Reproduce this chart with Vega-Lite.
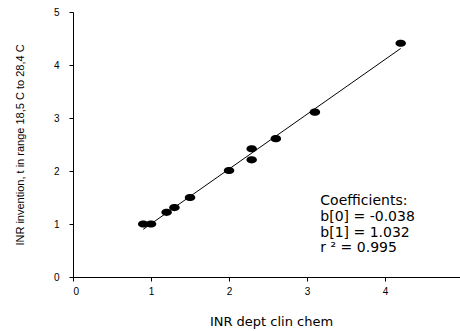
{
  "$schema": "https://vega.github.io/schema/vega-lite/v6.json",
  "width": 387,
  "height": 265,
  "autosize": {"type": "none"},
  "padding": {"left": 73, "top": 12, "right": 0, "bottom": 54},
  "background": "white",
  "config": {
    "view": {"stroke": null},
    "font": "Liberation Sans",
    "axis": {"grid": false, "domainColor": "black", "tickColor": "black", "labelColor": "black", "titleColor": "black", "titleFontWeight": "normal", "labelFont": "Liberation Sans", "titleFont": "Liberation Sans"}
  },
  "datasets": {
    "pts": [
      {"x": 0.9, "y": 1.0},
      {"x": 1.0, "y": 1.0},
      {"x": 1.2, "y": 1.22},
      {"x": 1.3, "y": 1.31},
      {"x": 1.5, "y": 1.5},
      {"x": 2.0, "y": 2.01},
      {"x": 2.29, "y": 2.42},
      {"x": 2.29, "y": 2.21},
      {"x": 2.6, "y": 2.61},
      {"x": 3.1, "y": 3.11},
      {"x": 4.2, "y": 4.41}
    ],
    "notes": [
      {"x": 3.17, "y": 1.36, "t": "Coefficients:"},
      {"x": 3.17, "y": 1.06, "t": "b[0] = -0.038"},
      {"x": 3.17, "y": 0.76, "t": "b[1] = 1.032"},
      {"x": 3.17, "y": 0.47, "t": "r ² = 0.995"}
    ]
  },
  "layer": [
    {
      "mark": {"type": "rule", "color": "black", "strokeWidth": 1},
      "encoding": {"y": {"datum": 5, "type": "quantitative"}}
    },
    {
      "data": {"name": "pts"},
      "transform": [{"regression": "y", "on": "x", "extent": [0.9, 4.2]}],
      "mark": {"type": "line", "color": "black", "strokeWidth": 1},
      "encoding": {
        "x": {"field": "x", "type": "quantitative"},
        "y": {"field": "y", "type": "quantitative"}
      }
    },
    {
      "data": {"name": "pts"},
      "mark": {"type": "point", "filled": true, "color": "black", "opacity": 1, "size": 110, "shape": "M-1,0A1,0.68 0 1,0 1,0A1,0.68 0 1,0 -1,0Z"},
      "encoding": {
        "x": {
          "field": "x", "type": "quantitative",
          "scale": {"domain": [0, 4.96], "nice": false, "zero": false},
          "axis": {"values": [0, 1, 2, 3, 4], "title": "INR dept clin chem", "titleFont": "DejaVu Sans", "titleFontSize": 13, "titleX": 198, "titleY": 48, "titleAlign": "center", "titleBaseline": "alphabetic", "labelFontSize": 10, "tickSize": 4, "labelPadding": 5, "format": "d"}
        },
        "y": {
          "field": "y", "type": "quantitative",
          "scale": {"domain": [0, 5], "nice": false},
          "axis": {"values": [0, 1, 2, 3, 4, 5], "title": "INR invention, t in range 18,5 C to 28,4 C", "titleFontSize": 11, "titlePadding": 28, "labelFontSize": 10, "tickSize": 4, "labelPadding": 10, "format": "d"}
        }
      }
    },
    {
      "data": {"name": "notes"},
      "mark": {"type": "text", "align": "left", "baseline": "alphabetic", "fontSize": 14, "font": "DejaVu Sans", "color": "black"},
      "encoding": {
        "x": {"field": "x", "type": "quantitative"},
        "y": {"field": "y", "type": "quantitative"},
        "text": {"field": "t"}
      }
    }
  ]
}
